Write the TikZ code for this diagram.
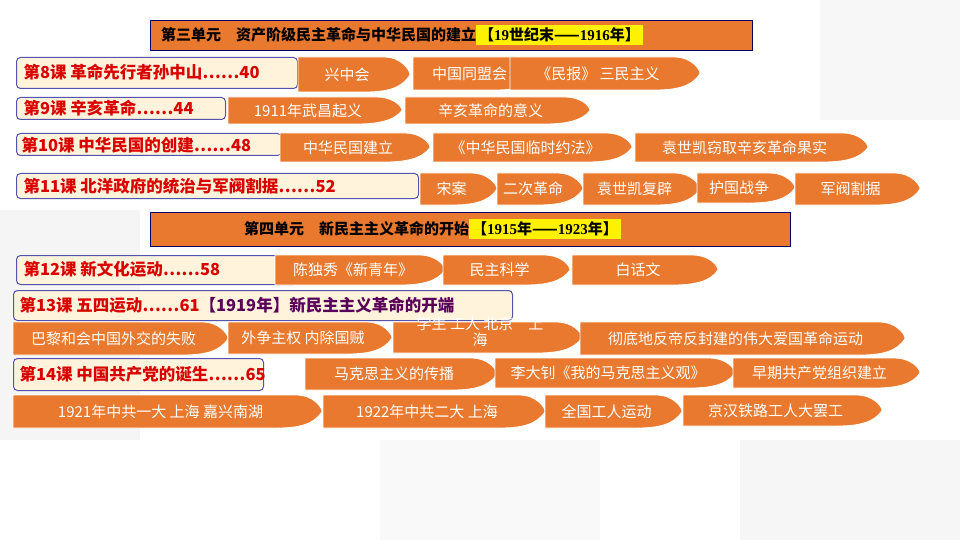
\documentclass[tikz,border=0pt]{standalone}
\usepackage{fontspec}
\setmainfont{Liberation Serif}
\newfontfamily\cjk{Noto Sans CJK SC}
\newfontfamily\lser{Liberation Serif}
\definecolor{orr}{HTML}{E8792E}
\definecolor{cream}{HTML}{FFF3DC}
\begin{document}
\begin{tikzpicture}[x=1pt,y=-1pt,
  orfill/.style={fill=orr, draw=white, line width=0.8pt},
  otext/.style={text=white,font=\cjk\fontsize{15}{16}\selectfont,inner sep=0pt},
  lesson/.style={draw=blue!35!gray,line width=1pt,fill=cream,rounded corners=4pt,anchor=north west,inner sep=0pt},
  ltext/.style={text=red!85!black,font=\cjk\bfseries\fontsize{16.5}{18}\selectfont,anchor=west},
  unit/.style={draw=blue!40!black,line width=1pt,fill=orr,anchor=north west,inner sep=0pt},
  utext/.style={font=\cjk\bfseries\fontsize{15}{17}\selectfont,text=black,anchor=west,inner sep=1pt}]
\useasboundingbox (0,0) rectangle (960,540);
\fill[white] (0,0) rectangle (960,540);
\fill[gray!8] (0,210) rectangle (140,440);
\fill[gray!6] (820,0) rectangle (960,120);
\fill[gray!7] (740,440) rectangle (960,540);
\fill[gray!5] (380,440) rectangle (600,540);
\newcommand\ob[6]{%
 \path[orfill] (#2,#3) -- ({#4-25},#3) .. controls ({#4-10},#3) and (#4,{(#3+#5)/2-5}) .. (#4,{(#3+#5)/2})
   .. controls ({#4-8},{#5-3}) and ({#4-25},#5) .. ({#4-45},#5) -- (#2,#5) -- cycle;
 \node[otext] (#1) at ({(#2+#4)/2-7},{(#3+#5)/2}) {#6};}
% unit 3
\node[unit,minimum width=602pt,minimum height=30pt] (u3) at (150,20) {};
\node[utext] (u3t) at (160,35) {第三单元\quad 资产阶级民主革命与中华民国的建立\colorbox{yellow}{【{\lser\bfseries 19}世纪末——{\lser\bfseries 1916}年】}};
% lessons
\node[lesson,minimum width=281pt,minimum height=31pt] (l8) at (16,57) {};
\node[ltext] (l8t) at (20,72) {第8课\ 革命先行者孙中山……40};
\node[lesson,minimum width=209pt,minimum height=22pt] (l9) at (16,97) {};
\node[ltext] (l9t) at (20,108) {第9课\ 辛亥革命……44};
\node[lesson,minimum width=265pt,minimum height=22pt] (l10) at (16,133) {};
\node[ltext] (l10t) at (18,145) {第10课 中华民国的创建……48};
\node[lesson,minimum width=402pt,minimum height=25pt] (l11) at (16,173) {};
\node[ltext] (l11t) at (20,186) {第11课\ 北洋政府的统治与军阀割据……52};
\ob{a1}{298}{57}{410}{92}{兴中会}
\ob{a2}{413}{57}{540}{90}{中国同盟会}
\ob{a3}{510}{57}{700}{90}{《民报》\ 三民主义}
\ob{b1}{228}{97}{402}{124}{1911年武昌起义}
\ob{b2}{405}{97}{590}{124}{辛亥革命的意义}
\ob{c1}{280}{133}{430}{162}{中华民国建立}
\ob{c2}{433}{133}{632}{162}{《中华民国临时约法》}
\ob{c3}{635}{133}{868}{162}{袁世凯窃取辛亥革命果实}
\ob{d1}{420}{173}{497}{205}{宋案}
\ob{d2}{497}{173}{583}{205}{二次革命}
\ob{d3}{583}{173}{700}{205}{袁世凯复辟}
\ob{d4}{697}{173}{795}{203}{护国战争}
\ob{d5}{795}{173}{920}{205}{军阀割据}
% unit 4
\node[unit,minimum width=640pt,minimum height=34pt] (u4) at (150,212) {};
\node[utext] (u4t) at (243,229) {第四单元\quad 新民主主义革命的开始\colorbox{yellow}{【{\lser\bfseries 1915}年——{\lser\bfseries 1923}年】}};
\node[lesson,minimum width=281pt,minimum height=29pt] (l12) at (16,255) {};
\node[ltext] (l12t) at (20,269) {第12课\ 新文化运动……58};
\ob{e1}{275}{255}{445}{285}{陈独秀《新青年》}
\ob{e2}{443}{255}{570}{285}{民主科学}
\ob{e3}{572}{255}{718}{285}{白话文}
\node[lesson,minimum width=499pt,minimum height=30pt] (l13) at (13,290) {};
\node[ltext] (l13t) at (16,305) {第13课\ 五四运动……61\textcolor{violet!70!black}{【1919年】新民主主义革命的开端}};
\ob{f1}{13}{322}{228}{355}{巴黎和会中国外交的失败}
\ob{f2}{228}{322}{392}{354}{外争主权\ 内除国贼}
\ob{f3}{393}{322}{582}{353}{}
\node[otext,align=center] (f3t) at (480,332) {学生\ 工人\ 北京\quad 上\\海};
\ob{f4}{580}{322}{905}{355}{彻底地反帝反封建的伟大爱国革命运动}
\node[lesson,minimum width=250pt,minimum height=32pt] (l14) at (13,358) {};
\node[ltext] (l14t) at (16,374) {第14课 中国共产党的诞生……65};
\ob{g1}{305}{358}{497}{390}{马克思主义的传播}
\ob{g2}{495}{358}{735}{388}{李大钊《我的马克思主义观》}
\ob{g3}{733}{358}{920}{388}{早期共产党组织建立}
\ob{h1}{13}{395}{322}{428}{1921年中共一大\ 上海\ 嘉兴南湖}
\ob{h2}{323}{395}{545}{428}{1922年中共二大\ 上海}
\ob{h3}{545}{395}{682}{428}{全国工人运动}
\ob{h4}{683}{395}{882}{426}{京汉铁路工人大罢工}
\end{tikzpicture}
\end{document}
